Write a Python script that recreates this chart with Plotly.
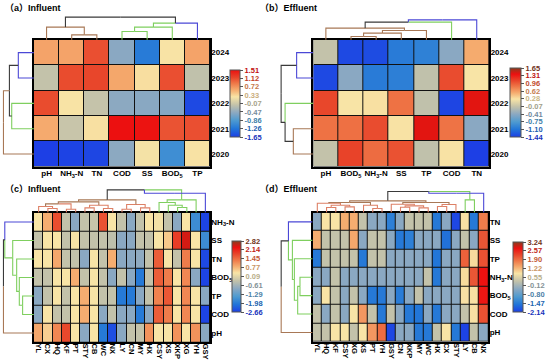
import plotly.graph_objects as go

W, H = 550, 363

# ---------------- data ----------------
years = ["2024", "2023", "2022", "2021", "2020"]

a_cols = ["pH", "NH<sub>3</sub>-N", "TN", "COD", "SS", "BOD<sub>5</sub>", "TP"]
a_z = [
    [0.62, 0.62, 1.10, -0.51, -1.20, 0.25, 0.62],
    [-0.13, 1.12, 1.15, 0.60, 0.28, 1.10, -0.15],
    [1.12, 0.25, -0.12, -0.50, -0.52, -0.55, -1.58],
    [0.58, -0.10, 0.27, 1.51, 1.49, 1.08, 1.10],
    [-1.65, -1.62, -1.60, -0.50, 0.22, -1.00, 0.26],
]
a_ticks = ["1.51", "1.12", "0.72", "0.33", "-0.07", "-0.47", "-0.86", "-1.26", "-1.65"]

b_cols = ["pH", "BOD<sub>5</sub>", "NH<sub>3</sub>-N", "SS", "TP", "COD", "TN"]
b_z = [
    [-0.08, -1.38, -1.36, -1.05, -1.00, -0.42, 0.55],
    [-1.38, -0.42, -1.05, -1.02, -0.10, 1.05, 0.26],
    [1.08, 0.26, 0.28, 0.85, -0.10, -1.40, 1.40],
    [0.85, 0.86, 1.05, 0.27, 1.40, 0.84, -0.42],
    [-0.08, 1.10, 0.88, 1.02, -0.10, 0.27, -1.44],
]
b_ticks = ["1.65", "1.31", "0.96", "0.62", "0.28", "-0.07", "-0.41", "-0.75", "-1.10", "-1.44"]

c_cols = ["YL", "CX", "HQ", "KF", "PT", "STY", "CB", "WC", "NX", "LY", "CN", "MY", "HX",
          "CSY", "XS", "XKP", "XG", "YH", "GSY"]
c_rows = ["NH<sub>3</sub>-N", "SS", "TN", "BOD<sub>5</sub>", "TP", "COD", "pH"]
c_z = [
    [0.35, 0.85, 1.75, -0.25, -0.85, -0.25, -0.20, 1.70, 0.35, -0.25, -0.85, -0.25, 0.35, 0.30, -0.25, -0.85, 0.35, -1.70, -2.60],
    [-0.25, 0.35, 0.35, -0.25, 0.35, -0.25, -0.25, -0.25, -0.30, -0.85, -0.85, -0.25, -0.25, 0.35, 0.60, 1.90, 2.45, 0.35, -1.70],
    [0.35, 0.35, 0.90, -0.25, -0.25, -0.85, 0.35, -0.25, 0.85, -0.85, -0.85, -0.80, -0.25, 1.60, 0.35, -0.25, 1.30, 0.35, -2.55],
    [-0.25, -0.25, 0.35, 0.35, 0.85, -0.25, 0.35, -0.25, -0.85, -0.25, -0.85, -2.00, -0.25, 1.60, 1.30, 0.35, 1.20, -0.85, -2.60],
    [-0.85, -0.25, 0.35, -0.25, 0.35, 0.85, 0.35, -0.25, -0.25, -2.00, -2.00, -0.85, -0.25, 1.25, 1.65, 0.35, 1.20, 0.35, -0.85],
    [-0.85, 0.35, -0.25, -0.25, 0.35, 0.85, 0.35, -0.85, -0.25, -0.85, -0.85, -2.00, -0.85, 1.60, 1.30, 0.35, 1.20, 0.35, -2.60],
    [0.90, 0.55, 1.20, 1.80, 0.35, -0.85, 0.35, -2.00, -2.50, -0.85, -0.25, -0.25, 1.10, 0.35, 0.35, 1.10, 0.35, 1.10, -0.85],
]
c_ticks = ["2.82", "2.14", "1.45", "0.77", "0.09", "-0.61", "-1.29", "-1.98", "-2.66"]

d_cols = ["YL", "HQ", "KF", "CSY", "XG", "XS", "PT", "YH", "GSY", "CN", "XKP", "MY", "WC",
          "HX", "CX", "STY", "LY", "CB", "NX"]
d_rows = ["TN", "SS", "TP", "NH<sub>3</sub>-N", "BOD<sub>5</sub>", "COD", "pH"]
d_z = [
    [-0.36, 0.82, 0.82, 1.30, 1.30, 0.23, -0.36, -0.36, -1.40, -0.36, 0.23, 0.23, 0.23, -1.50, -0.36, -2.05, 0.85, -1.50, 1.75],
    [1.30, 0.23, 0.23, 0.23, 1.35, -0.36, 0.23, 0.23, -0.36, -1.50, -1.40, -0.36, -0.36, -0.36, -1.60, -0.36, 0.23, -0.36, 2.10],
    [-1.50, 0.23, 0.23, 0.23, 0.23, -1.50, 0.23, 0.23, -0.36, -0.36, -0.36, -0.36, -0.36, -1.55, -0.36, -0.36, 2.00, 0.90, 2.15],
    [-0.36, -0.36, 0.23, -0.36, -0.36, -0.36, -0.36, -0.36, -0.36, -0.36, -0.36, -0.36, 0.23, -1.50, -0.36, -0.36, 0.90, 2.10, 2.75],
    [-0.36, 0.82, 0.23, -0.36, 0.23, -0.36, -1.50, -1.50, -0.36, -1.45, -0.36, 0.23, -0.36, -0.36, -0.36, -0.36, 0.85, 0.85, 2.70],
    [0.23, -0.36, 0.23, -0.36, 0.82, 1.50, 0.23, -1.50, 0.23, -0.36, -1.50, -1.55, -0.36, -1.50, -0.36, -0.36, 0.23, 0.85, 2.15],
    [0.23, 0.23, 0.82, 0.82, 0.23, 0.82, 1.50, 1.90, -2.05, -0.36, -0.36, -1.50, -1.50, 0.23, 0.82, -1.50, -2.10, 0.23, -0.36],
]
d_ticks = ["3.24", "2.57", "1.90", "1.22", "0.55", "-0.12", "-0.80", "-1.47", "-2.14"]

# dendrograms: merges (child a, child b, height); node colour codes (leaves, then merges)
a_top_merges = [(1, 2, 15), (0, 7, 38), (3, 4, 25), (9, 5, 38), (10, 6, 50), (8, 11, 68)]
a_top_colors = "BBBGGGP" + "BKGGKK"
a_left_merges = [(0, 1, 47), (2, 3, 67), (5, 6, 74), (7, 4, 92)]
a_left_colors = "PPGGB" + "KKBK"

b_top_merges = [(1, 2, 10), (7, 3, 20), (8, 4, 28), (0, 9, 35), (10, 5, 53), (11, 6, 60)]
b_top_colors = "BBBBBGP" + "BBBKPK"
b_left_merges = [(0, 1, 50), (3, 4, 60), (2, 6, 85), (5, 7, 97)]
b_left_colors = "PPGBB" + "KKKK"

c_top_merges = [(1, 2, 12), (0, 19, 18), (3, 4, 10), (20, 21, 26), (5, 6, 14), (7, 8, 12),
                (23, 24, 22), (22, 25, 32), (9, 10, 10), (11, 12, 14), (27, 28, 24),
                (26, 29, 38), (15, 16, 15), (14, 31, 22), (13, 32, 30), (33, 17, 38),
                (30, 34, 68), (35, 18, 58)]
c_top_colors = "RRRRRRRRRRRRR" + "GGGGG" + "P" + "RBRBRRBBRRBK" + "GGGG" + "PK"
c_left_merges = [(4, 5, 34), (3, 7, 44), (2, 8, 52), (1, 9, 64), (0, 10, 88), (11, 6, 92)]
c_left_colors = "PGGGGGB" + "GGGGKK"

d_top_merges = [(1, 2, 15), (3, 4, 17), (19, 20, 22), (0, 21, 28), (6, 7, 12), (5, 23, 22),
                (22, 24, 30), (9, 10, 16), (11, 12, 14), (26, 27, 20), (8, 28, 25),
                (13, 14, 18), (30, 15, 24), (29, 31, 30), (25, 32, 35), (16, 17, 38),
                (33, 34, 63), (35, 18, 58)]
d_top_colors = "RRRRRRRRRRRRRRRR" + "GG" + "P" + "RRRBRBBRRRBRBBK" + "G" + "PK"
d_left_merges = [(3, 4, 38), (7, 5, 45), (2, 8, 55), (1, 9, 61), (0, 10, 73), (11, 6, 95)]
d_left_colors = "PGGGGGB" + "GGGGKK"

# ---------------- style ----------------
LINE_COL = {"P": "#4b48d6", "G": "#7fcf5f", "B": "#a87856", "R": "#dd8066", "K": "#3a3a3a"}
SCALE_A = [(0.0, "#1d3fe5"), (0.125, "#2276d8"), (0.25, "#4f9bd0"), (0.36, "#8aa8c2"),
           (0.48, "#c3c2aa"), (0.60, "#f8e4a6"), (0.70, "#f5ad70"), (0.80, "#ef7848"),
           (0.89, "#e8442a"), (1.0, "#ec1010")]
SCALE_B = [(0.0, "#1d3fe5"), (0.11, "#2276d8"), (0.22, "#4f9bd0"), (0.33, "#8aa8c2"),
           (0.44, "#c3c2aa"), (0.55, "#f8e4a6"), (0.64, "#f5ad70"), (0.73, "#ef7848"),
           (0.82, "#e8442a"), (0.91, "#ec1010"), (1.0, "#8a3d1e")]
FONT = "Liberation Sans, Arial, sans-serif"
TFONT = "Liberation Sans, Noto Sans CJK SC, sans-serif"


def hex2rgb(h):
    h = h.lstrip("#")
    return [int(h[i:i + 2], 16) for i in (0, 2, 4)]


def sample(scale, f, dark=0.82):
    f = min(max(f, 0), 1)
    for (f0, c0), (f1, c1) in zip(scale[:-1], scale[1:]):
        if f0 <= f <= f1:
            t = 0 if f1 == f0 else (f - f0) / (f1 - f0)
            a, b = hex2rgb(c0), hex2rgb(c1)
            rgb = [int((a[i] + (b[i] - a[i]) * t) * dark) for i in range(3)]
            return "rgb(%d,%d,%d)" % tuple(rgb)
    return "black"


def tree_segments(n, merges, colors):
    pos = [float(i) for i in range(n)]
    hgt = [0.0] * n
    segs = {}
    for k, (a, b, h) in enumerate(merges):
        p = (pos[a] + pos[b]) / 2
        for ch in (a, b):
            xs, ys = segs.setdefault(colors[ch], ([], []))
            xs += [pos[ch], pos[ch], p, None]
            ys += [hgt[ch], h, h, None]
        pos.append(p)
        hgt.append(h)
    return segs


fig = go.Figure()
layout = {}
annotations = []


def add_panel(idx, cols, rows, z, ticks, scale, hm, cb, top, left, angle, title, tpos):
    k0 = idx * 3 + 1
    nc, nr = len(cols), len(rows)
    l, t, r, b = hm
    xd = [l / W, r / W]
    yd = [1 - b / H, 1 - t / H]
    tv = [float(s) for s in ticks]
    zmin, zmax = min(tv), max(tv)
    ttxt = ['<span style="color:%s">%s</span>' % (sample(scale, (v - zmin) / (zmax - zmin)), s)
            for v, s in zip(tv, ticks)]
    sfx = "" if k0 == 1 else str(k0)
    fig.add_trace(go.Heatmap(
        z=z, x=list(range(nc)), y=list(range(nr)), colorscale=[[f, c] for f, c in scale],
        zmin=zmin, zmax=zmax, xgap=1, ygap=1, xaxis="x" + sfx, yaxis="y" + sfx,
        hoverinfo="skip",
        colorbar=dict(x=cb[0] / W, xanchor="left", y=1 - cb[3] / H, yanchor="bottom",
                      len=cb[3] - cb[1], lenmode="pixels", thickness=cb[2] - cb[0],
                      thicknessmode="pixels", xpad=0, ypad=0, outlinewidth=1,
                      outlinecolor="#555", ticks="outside", ticklen=3, tickwidth=1,
                      tickcolor="#555", tickvals=tv, ticktext=ttxt,
                      tickfont=dict(size=7.5, family=FONT, weight=700))))
    fig.add_shape(type="rect", xref="x" + sfx, yref="y" + sfx, x0=-0.5, x1=nc - 0.5,
                  y0=-0.5, y1=nr - 0.5, fillcolor="#111", line_width=0, layer="below")
    layout["xaxis" + sfx] = dict(domain=xd, range=[-0.5, nc - 0.5], anchor="y" + sfx,
                                 tickvals=list(range(nc)), ticktext=cols, tickangle=angle,
                                 showline=True, mirror=True, linecolor="black", linewidth=1.5,
                                 ticks="", showgrid=False, zeroline=False, automargin=False,
                                 ticklabelstandoff=-2,
                                 tickfont=dict(size=8 if angle == 0 else 7.5, family=FONT,
                                               weight=700, color="black"))
    layout["yaxis" + sfx] = dict(domain=yd, range=[nr - 0.5, -0.5], anchor="x" + sfx, side="right",
                                 tickvals=list(range(nr)), ticktext=rows,
                                 showline=True, mirror=True, linecolor="black", linewidth=1.5,
                                 ticks="", showgrid=False, zeroline=False, automargin=False,
                                 ticklabelstandoff=-2,
                                 tickfont=dict(size=8, family=FONT, weight=700, color="black"))
    # top dendrogram
    s2 = str(k0 + 1)
    for code, (xs, ys) in tree_segments(nc, top[0], top[1]).items():
        fig.add_trace(go.Scatter(x=xs, y=ys, mode="lines", line=dict(color=LINE_COL[code], width=1.1),
                                 xaxis="x" + s2, yaxis="y" + s2, hoverinfo="skip", showlegend=False))
    layout["xaxis" + s2] = dict(domain=xd, range=[-0.5, nc - 0.5], visible=False, anchor="y" + s2)
    layout["yaxis" + s2] = dict(domain=[1 - t / H, 1 - (t - 25.5) / H], range=[-0.5, 76],
                                visible=False, anchor="x" + s2)
    # left dendrogram
    s3 = str(k0 + 2)
    for code, (xs, ys) in tree_segments(nr, left[0], left[1]).items():
        fig.add_trace(go.Scatter(x=ys, y=xs, mode="lines", line=dict(color=LINE_COL[code], width=1.1),
                                 xaxis="x" + s3, yaxis="y" + s3, hoverinfo="skip", showlegend=False))
    layout["xaxis" + s3] = dict(domain=[(l - 33.5) / W, l / W], range=[101, -0.5], visible=False,
                                anchor="y" + s3)
    layout["yaxis" + s3] = dict(domain=yd, range=[nr - 0.5, -0.5], visible=False, anchor="x" + s3)
    annotations.append(dict(text=title, x=tpos[0] / W, y=1 - tpos[1] / H, xref="paper", yref="paper",
                            xanchor="left", yanchor="middle", showarrow=False,
                            font=dict(size=9, family=TFONT, weight=700, color="black")))


add_panel(0, a_cols, years, a_z, a_ticks, SCALE_A, (34, 40, 210, 166.7), (230, 70, 240, 137),
          (a_top_merges, a_top_colors), (a_left_merges, a_left_colors), 0, "（a）Influent", (3, 8))
add_panel(1, b_cols, years, b_z, b_ticks, SCALE_B, (313.3, 40, 489.3, 166.7), (510, 68, 521, 137),
          (b_top_merges, b_top_colors), (b_left_merges, b_left_colors), 0, "（b）Effluent", (258, 8))
add_panel(2, c_cols, c_rows, c_z, c_ticks, SCALE_B, (34, 212.7, 210, 342.3), (232, 241, 241, 312),
          (c_top_merges, c_top_colors), (c_left_merges, c_left_colors), 90, "（c）Influent", (3, 189))
add_panel(3, d_cols, d_rows, d_z, d_ticks, SCALE_B, (312.7, 212.7, 488.3, 341.7), (513, 242, 523, 312),
          (d_top_merges, d_top_colors), (d_left_merges, d_left_colors), 90, "（d）Effluent", (258, 189))

fig.update_layout(width=W, height=H, margin=dict(l=0, r=0, t=0, b=0, autoexpand=False),
                  paper_bgcolor="white", plot_bgcolor="white", showlegend=False,
                  annotations=annotations, **layout)
fig.write_html("out.html", config={"displayModeBar": False},
               post_script="document.body.style.margin='0px';")
